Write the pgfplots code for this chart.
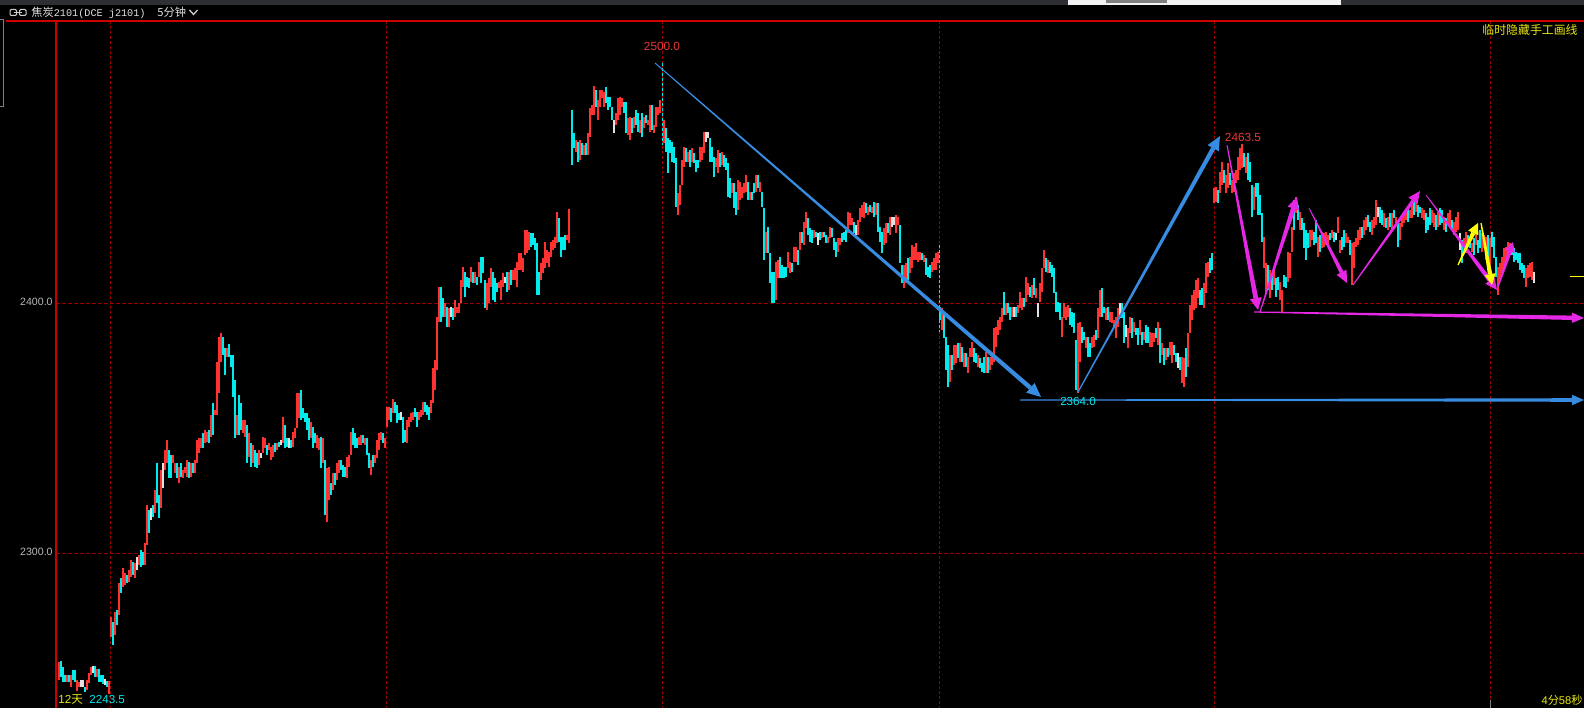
\documentclass[border=0pt]{standalone}
\usepackage{fontspec}
\setmainfont{Liberation Sans}
\newfontfamily\cjk{Noto Sans CJK SC}
\newfontfamily\mono{Liberation Mono}
\usepackage{pgfplots}
\pgfplotsset{compat=1.18}
\usepackage{pgfplotstable}
\usetikzlibrary{arrows.meta,calc}
\definecolor{barred}{RGB}{255,50,50}
\definecolor{barcyan}{RGB}{0,235,235}
\definecolor{barwhite}{RGB}{225,225,225}
\definecolor{gridred}{RGB}{150,0,0}
\definecolor{borderred}{RGB}{205,0,0}
\definecolor{lblred}{RGB}{235,55,55}
\definecolor{ylw}{RGB}{230,230,20}
\definecolor{gry}{RGB}{185,185,185}
\definecolor{blueln}{RGB}{55,140,225}
\definecolor{magln}{RGB}{230,40,230}
\definecolor{yelln}{RGB}{255,255,0}
\definecolor{topbar}{RGB}{45,47,51}

\pgfplotstableread{
x l h c
59 2249.2 2256.4 1
61 2250.4 2256.8 2
63 2248.4 2254.4 2
65 2248.4 2251.2 2
67 2248.4 2251.2 1
69 2248.4 2251.2 2
71 2246.4 2251.2 1
73 2249.2 2253.2 2
75 2248.4 2253.2 2
77 2244.8 2249.2 1
79 2246.4 2248.4 1
81 2246.4 2249.2 3
83 2246.4 2249.2 3
85 2244.4 2246.4 2
87 2245.2 2249.2 1
89 2248 2252 1
91 2251.2 2254.4 1
93 2252 2254.8 3
95 2250.4 2254.8 2
97 2250.4 2253.6 1
99 2248.4 2253.6 2
101 2248.4 2251.2 2
103 2247.6 2251.2 2
105 2247.2 2249.6 3
107 2246.4 2248.8 2
109 2243.5 2248.8 1
111 2266.5 2274.5 1
113 2263.2 2272.5 2
115 2267.2 2276.5 1
117 2271.2 2277.2 2
119 2275.2 2287.9 1
121 2283.9 2289.9 2
123 2286.5 2293.9 1
125 2287.2 2291.9 1
127 2287.9 2291.2 2
129 2288.5 2293.2 1
131 2290.5 2297.2 1
133 2291.2 2296.5 2
135 2290 2296 1
137 2293.2 2298.5 3
139 2295.2 2299.2 1
141 2294.5 2301.2 2
143 2295.2 2300.5 2
145 2295.2 2303.9 1
147 2303.2 2319.2 1
149 2307.9 2317.2 2
151 2313.2 2317.9 3
153 2314.5 2319.2 2
155 2315.9 2325.2 1
157 2319.9 2335.9 2
159 2313.9 2323.2 2
161 2317.9 2333.2 1
163 2325.9 2335.9 3
165 2333.2 2341.2 1
167 2335.9 2345.2 1
169 2329.9 2341.2 2
171 2329.9 2339.2 2
173 2335.9 2339.2 1
175 2331.9 2335.9 1
177 2329.9 2335.9 2
179 2327.9 2334.5 1
181 2330.5 2335.9 2
183 2329.9 2333.2 1
185 2331.9 2334.5 1
187 2330.5 2337.2 1
189 2329.9 2336.5 2
191 2330.5 2335.9 1
193 2331.9 2335.9 2
195 2331.9 2337.2 1
197 2335.9 2345.2 1
199 2339.9 2345.9 1
201 2341.9 2345.9 1
203 2341.9 2347.9 2
205 2343.9 2349.2 1
207 2344.5 2348.5 1
209 2343.9 2349.2 2
211 2346.5 2355.2 1
213 2347.2 2359.9 2
215 2355.2 2357.2 1
217 2355.2 2376.5 1
219 2363.9 2386.5 1
221 2376.5 2387.9 1
223 2379.2 2386.5 2
225 2371.2 2381.9 2
227 2378.5 2381.9 1
229 2378.5 2383.5 2
231 2374.5 2379.2 2
233 2362.5 2379.2 2
235 2345.9 2369.2 2
237 2347.2 2355.2 1
239 2347.2 2363.2 2
241 2349.2 2359.9 2
243 2347.9 2353.2 1
245 2346.5 2353.2 1
247 2335.9 2351.2 2
249 2338.5 2347.9 1
251 2334.5 2343.9 2
253 2335.9 2343.2 1
255 2334.5 2341.2 2
257 2333.9 2339.9 2
259 2335.2 2341.2 1
261 2337.9 2339.9 3
263 2339.9 2346.5 1
265 2341.9 2345.9 1
267 2339.2 2343.2 2
269 2341.2 2343.9 1
271 2337.2 2342.5 1
273 2338.5 2343.2 1
275 2340.5 2343.9 2
277 2341.2 2343.9 1
279 2342.5 2344.5 2
281 2343.2 2345.2 3
283 2343.9 2354.5 1
285 2341.9 2351.2 2
287 2342.5 2345.9 2
289 2341.9 2345.9 3
291 2341.9 2345.2 2
293 2342.5 2348.5 1
295 2345.9 2349.9 1
297 2349.9 2363.9 1
299 2353.9 2363.9 1
301 2353.2 2365.2 2
303 2353.9 2357.9 2
305 2352.5 2355.9 2
307 2349.2 2355.9 2
309 2345.2 2353.9 2
311 2345.9 2352.5 1
313 2341.9 2350.5 2
315 2343.9 2347.9 2
317 2341.9 2347.2 1
319 2341.2 2345.9 1
321 2333.9 2346.5 2
323 2335.9 2345.9 1
325 2315.2 2337.2 2
327 2312.5 2333.9 1
329 2321.2 2334.5 1
331 2323.2 2327.9 2
333 2325.2 2331.9 1
335 2327.2 2331.9 2
337 2329.2 2335.9 1
339 2331.9 2337.2 1
341 2333.2 2337.2 2
343 2330.5 2335.2 2
345 2330.5 2334.5 2
347 2329.9 2338.5 1
349 2334.5 2339.2 1
351 2339.2 2348.5 1
353 2343.2 2349.9 2
355 2341.9 2347.9 2
357 2341.9 2345.9 2
359 2343.2 2346.5 1
361 2343.2 2347.2 1
363 2343.9 2347.2 2
365 2343.2 2345.9 1
367 2339.2 2345.9 2
369 2333.9 2339.9 2
371 2331.2 2337.2 1
373 2334.5 2339.2 2
375 2335.9 2339.2 1
377 2337.9 2345.2 1
379 2341.2 2347.9 1
381 2345.2 2348.5 1
383 2343.9 2347.9 2
385 2341.9 2345.9 1
387 2350.5 2358.5 1
389 2353.2 2358.5 1
391 2352.5 2357.9 2
393 2355.9 2361.5 1
395 2355.9 2360.5 2
397 2351.9 2359.2 2
399 2353.2 2355.9 2
401 2353.2 2356.5 3
403 2343.9 2354.5 2
405 2344.5 2349.2 2
407 2343.9 2353.2 1
409 2350.5 2354.5 1
411 2352.5 2355.9 1
413 2353.2 2356.5 1
415 2354.5 2357.9 2
417 2350.5 2356.5 2
419 2353.2 2356.5 1
421 2354.5 2357.2 1
423 2355.2 2360.5 1
425 2356.5 2360.5 2
427 2355.2 2359.2 2
429 2353.2 2358.5 2
431 2355.9 2361.2 1
433 2359.9 2373.9 1
435 2365.2 2377.2 1
437 2373.2 2394.5 1
439 2392.5 2406.5 1
441 2392.5 2406.5 2
443 2394.5 2401.9 2
445 2394.5 2399.9 1
447 2390.5 2398.5 2
449 2390.5 2397.9 1
451 2394.5 2398.5 3
453 2393.2 2397.9 2
455 2394.5 2401.2 1
457 2395.9 2398.5 1
459 2395.9 2399.9 1
461 2399.9 2409.2 1
463 2406.5 2414.5 1
465 2402.5 2412.5 2
467 2406.5 2410.5 2
469 2405.9 2409.9 2
471 2408.5 2414.5 1
473 2407.9 2412.5 2
475 2407.9 2412.5 1
477 2407.2 2410.5 2
479 2410.5 2416.5 1
481 2407.9 2418.5 2
483 2411.9 2418.5 2
485 2397.9 2409.2 2
487 2397.2 2407.9 1
489 2399.9 2409.9 1
491 2406.5 2413.9 1
493 2401.2 2412.5 2
495 2400.5 2409.9 2
497 2404.5 2407.9 2
499 2405.9 2408.5 1
501 2401.2 2409.2 1
503 2406.5 2411.9 1
505 2407.9 2410.5 3
507 2404.5 2412.5 2
509 2405.2 2412.5 1
511 2407.2 2413.2 2
513 2409.2 2413.2 1
515 2409.2 2413.9 1
517 2406.5 2416.5 1
519 2413.2 2419.9 1
521 2413.2 2419.9 1
523 2412.5 2417.9 1
525 2419.2 2429.2 1
527 2419.9 2429.2 1
529 2421.2 2428.5 1
531 2422.5 2427.9 2
533 2423.2 2427.9 2
535 2421.2 2425.9 2
537 2403.2 2423.9 2
539 2403.2 2412.5 2
541 2409.2 2415.9 1
543 2411.9 2417.9 1
545 2413.9 2424.5 1
547 2415.9 2421.2 1
549 2414.5 2420.5 1
551 2418.5 2424.5 1
553 2421.2 2425.2 1
555 2421.9 2426.5 1
557 2423.9 2436.5 1
559 2424.5 2433.9 2
561 2418.5 2426.5 2
563 2421.2 2426.5 2
565 2421.2 2427.2 2
567 2425.2 2427.2 1
569 2423.9 2437.6 1
572 2455.2 2477.2 2
574 2461.9 2467.9 2
576 2460.5 2465.2 1
578 2456.5 2464.5 2
580 2457.2 2465.2 1
582 2459.2 2463.9 2
584 2459.2 2463.2 1
586 2459.2 2463.9 2
588 2459.2 2467.9 1
590 2466.5 2477.9 1
592 2475.2 2479.2 1
594 2475.2 2486.8 1
596 2478.5 2485.2 2
598 2473.2 2481.2 1
600 2478.5 2485.2 1
602 2481.9 2485.2 1
604 2478.5 2484.5 1
606 2479.9 2486.5 2
608 2477.2 2482.5 2
610 2478.5 2482.5 2
612 2473.2 2478.5 2
614 2467.9 2473.2 3
616 2471.2 2475.9 1
618 2473.2 2481.9 1
620 2475.2 2482.5 1
622 2478.5 2481.9 1
624 2475.9 2480.5 2
626 2467.9 2480.5 2
628 2467.2 2473.9 1
630 2465.2 2474.5 1
632 2467.9 2473.9 2
634 2469.9 2474.5 1
636 2471.2 2477.2 2
638 2468.5 2475.9 2
640 2467.9 2473.2 1
642 2466.5 2475.9 2
644 2469.9 2474.5 1
646 2471.9 2475.2 2
648 2471.2 2473.2 1
650 2468.5 2479.2 1
652 2469.2 2479.2 2
654 2467.9 2471.2 1
656 2470.5 2478.5 1
658 2475.2 2478.5 1
660 2475.9 2481.2 1
664 2463.9 2473.2 1
666 2460.5 2469.9 2
668 2451.9 2465.9 2
670 2459.9 2465.2 2
672 2456.5 2464.5 2
674 2455.9 2462.5 2
676 2438.5 2457.9 2
678 2435.2 2443.9 1
680 2439.2 2447.2 1
682 2447.2 2457.2 1
684 2454.5 2462.5 1
686 2456.5 2461.9 2
688 2456.5 2460.5 1
690 2454.5 2461.2 2
692 2456.5 2461.9 1
694 2455.9 2459.9 2
696 2452.5 2457.2 2
698 2453.9 2457.2 2
700 2456.5 2462.5 1
702 2457.2 2462.5 1
704 2459.9 2468.5 1
706 2464.5 2468.5 3
708 2465.9 2468.5 3
710 2456.5 2465.9 2
712 2456.5 2462.5 2
714 2450.5 2458.5 2
716 2454.5 2457.9 1
718 2451.9 2461.2 1
720 2454.5 2459.9 2
722 2455.2 2460.5 1
724 2454.5 2459.2 2
726 2453.2 2457.9 2
728 2442.5 2455.9 2
730 2441.9 2449.9 2
732 2443.9 2447.9 1
734 2437.9 2447.9 2
736 2435.2 2444.5 2
738 2437.2 2449.2 1
740 2441.2 2448.5 1
742 2441.9 2446.5 1
744 2443.9 2447.9 1
746 2444.5 2451.2 1
748 2441.2 2448.5 2
750 2441.2 2444.5 1
752 2441.2 2444.5 2
754 2443.9 2447.9 2
756 2444.5 2451.2 1
758 2445.9 2451.2 2
760 2444.5 2448.5 1
762 2438.5 2444.5 2
764 2417.2 2437.9 2
766 2419.9 2428.5 1
768 2419.9 2430.5 2
770 2407.9 2419.9 2
772 2399.9 2412.5 2
774 2399.9 2412.5 2
776 2401.2 2416.5 1
778 2409.9 2417.2 1
780 2409.9 2418.5 2
782 2409.9 2415.2 2
784 2409.9 2414.5 2
786 2410.5 2414.5 2
788 2413.9 2420.5 1
790 2411.9 2416.5 1
792 2412.5 2415.9 2
794 2416.5 2422.5 1
796 2416.5 2422.5 1
798 2415.2 2421.2 2
800 2421.2 2428.5 1
802 2423.9 2428.5 2
804 2423.2 2432.5 1
806 2429.9 2436.5 1
808 2427.2 2433.9 2
810 2424.5 2429.9 2
812 2423.9 2429.2 2
814 2425.9 2429.2 1
816 2426.5 2428.5 2
818 2423.2 2427.9 3
820 2425.2 2428.5 2
822 2425.9 2428.5 1
824 2426.5 2428.5 2
826 2423.9 2427.2 2
828 2423.9 2426.5 1
830 2425.9 2430.5 1
832 2426.5 2429.9 2
834 2421.2 2425.9 2
836 2418.5 2424.5 2
838 2420.5 2425.9 1
840 2423.2 2425.9 1
842 2424.5 2427.9 2
844 2425.2 2428.5 2
846 2424.5 2429.2 2
848 2427.9 2436.5 1
850 2431.2 2435.9 1
852 2431.2 2433.9 1
854 2427.9 2432.5 2
856 2427.2 2431.2 3
858 2427.2 2433.2 1
860 2432.5 2437.9 1
862 2434.5 2439.2 1
864 2433.9 2440.5 1
866 2435.9 2439.9 2
868 2435.2 2438.5 1
870 2436.5 2439.2 2
872 2435.9 2438.5 1
874 2434.5 2440.5 2
876 2435.2 2439.9 1
878 2428.5 2439.9 2
880 2424.5 2430.5 2
882 2419.9 2428.5 2
884 2423.2 2429.9 1
886 2423.9 2431.9 1
888 2427.9 2431.9 2
890 2427.2 2434.5 1
892 2430.5 2434.5 3
894 2431.2 2434.5 3
896 2427.9 2435.2 1
898 2431.2 2434.5 1
900 2415.9 2431.2 2
902 2407.9 2415.2 2
904 2405.9 2415.2 1
906 2407.9 2415.9 1
908 2408.5 2417.9 2
910 2411.9 2418.5 1
912 2413.9 2423.2 1
914 2417.2 2422.5 1
916 2417.2 2423.9 1
918 2416.5 2420.5 1
920 2417.2 2420.5 1
922 2417.2 2419.9 2
924 2416.5 2419.2 1
926 2411.2 2417.9 2
928 2410.5 2414.5 2
930 2409.9 2415.2 2
932 2412.5 2416.5 1
934 2413.2 2417.9 1
936 2413.2 2419.9 1
938 2415.9 2420.5 1
940 2393.2 2398.5 2
942 2389.2 2397.9 1
944 2385.9 2395.9 2
946 2373.2 2386.5 2
948 2366.5 2383.2 2
950 2368.5 2379.2 1
952 2373.2 2379.2 2
954 2375.2 2383.2 1
956 2375.9 2383.2 1
958 2377.9 2383.9 2
960 2376.5 2383.9 1
962 2376.5 2382.5 2
964 2374.5 2379.9 1
966 2374.5 2379.9 2
968 2371.9 2378.5 1
970 2378.5 2381.9 1
972 2378.5 2384.5 1
974 2376.5 2381.9 2
976 2375.9 2379.9 2
978 2374.5 2379.2 1
980 2373.9 2377.9 2
982 2372.5 2375.9 2
984 2371.9 2378.5 2
986 2371.9 2380.5 1
988 2371.9 2378.5 2
990 2373.2 2378.5 1
992 2375.2 2379.2 1
994 2376.5 2389.9 1
996 2382.5 2390.5 1
998 2387.2 2393.2 1
1000 2389.2 2394.5 1
1002 2392.5 2397.9 1
1004 2395.2 2404.5 2
1006 2395.2 2399.9 1
1008 2395.9 2399.9 2
1010 2393.2 2398.5 2
1012 2394.5 2398.5 1
1014 2394.5 2398.5 3
1016 2394.5 2398.5 2
1018 2395.9 2399.2 1
1020 2397.9 2404.5 1
1022 2397.2 2401.9 1
1024 2398.5 2401.9 2
1026 2400.5 2410.5 1
1028 2403.2 2407.9 1
1030 2402.5 2406.5 2
1032 2401.9 2407.2 1
1034 2403.2 2409.9 2
1036 2401.9 2405.9 1
1038 2394.5 2399.9 3
1040 2400.5 2407.9 1
1042 2404.5 2413.9 1
1044 2413.9 2421.2 1
1046 2412.5 2417.9 2
1048 2411.9 2417.2 1
1050 2411.9 2416.5 2
1052 2410.5 2415.2 2
1054 2403.9 2413.9 2
1056 2396.5 2404.5 2
1058 2396.5 2400.5 2
1060 2393.2 2399.9 2
1062 2386.5 2394.5 1
1064 2393.9 2399.9 1
1066 2393.2 2398.5 1
1068 2394.5 2399.2 1
1070 2391.2 2397.9 2
1072 2390.5 2396.5 2
1074 2387.9 2395.9 2
1076 2365.2 2385.2 2
1078 2364 2391.9 1
1080 2376.5 2392.5 1
1082 2383.9 2390.5 2
1084 2385.2 2388.5 2
1086 2381.9 2386.5 1
1088 2378.5 2386.5 2
1090 2378.5 2383.9 2
1092 2381.9 2386.5 1
1094 2382.5 2387.2 1
1096 2385.2 2389.2 2
1098 2385.9 2397.9 1
1100 2394.5 2405.2 1
1102 2394.5 2405.9 2
1104 2395.9 2398.5 2
1106 2393.2 2397.9 1
1108 2393.2 2398.5 2
1110 2392.5 2396.5 1
1112 2391.9 2396.5 1
1114 2389.9 2393.2 1
1116 2385.9 2394.5 1
1118 2390.5 2397.9 1
1120 2393.9 2399.9 3
1122 2393.9 2399.9 2
1124 2383.9 2396.5 2
1126 2386.5 2391.2 3
1128 2381.9 2389.9 1
1130 2387.9 2394.5 1
1132 2385.9 2393.9 2
1134 2388.5 2392.5 1
1136 2387.2 2389.9 2
1138 2383.2 2389.9 2
1140 2387.2 2393.2 1
1142 2383.2 2388.5 2
1144 2385.2 2388.5 1
1146 2383.9 2391.2 2
1148 2383.9 2390.5 2
1150 2382.5 2388.5 1
1152 2382.5 2387.9 1
1154 2384.5 2387.9 1
1156 2385.9 2389.9 2
1158 2383.2 2392.5 1
1160 2375.9 2389.9 2
1162 2379.2 2383.9 1
1164 2375.2 2381.9 2
1166 2377.2 2381.9 1
1168 2378.5 2381.9 2
1170 2379.2 2384.5 1
1172 2375.9 2384.5 1
1174 2379.2 2383.2 2
1176 2376.5 2379.9 2
1178 2373.9 2379.9 3
1180 2373.2 2378.5 2
1182 2367.9 2378.5 1
1184 2366.5 2377.9 1
1186 2370.5 2381.9 2
1188 2374.5 2387.9 1
1190 2387.9 2399.2 1
1192 2393.2 2403.2 1
1194 2397.2 2405.2 1
1196 2397.9 2409.2 1
1198 2401.9 2409.9 1
1200 2399.2 2405.2 2
1202 2399.2 2405.9 2
1204 2397.9 2407.9 1
1206 2403.9 2415.9 1
1208 2410.5 2416.5 1
1210 2411.9 2417.9 2
1212 2413.2 2419.9 2
1214 2439.9 2445.9 1
1216 2440.5 2446.5 1
1218 2439.9 2445.2 2
1220 2443.9 2452.5 1
1222 2447.2 2456.5 1
1224 2447.9 2453.2 2
1226 2443.9 2451.2 1
1228 2445.9 2455.9 1
1230 2447.2 2451.9 2
1232 2443.9 2449.2 1
1234 2444.5 2451.9 1
1236 2447.9 2453.2 1
1238 2449.2 2458.5 1
1240 2453.2 2461.9 1
1242 2453.9 2463.5 1
1244 2454.5 2459.9 2
1246 2451.9 2458.5 1
1248 2449.2 2459.9 2
1250 2448.5 2456.5 2
1252 2434.5 2447.2 2
1254 2437.2 2446.5 1
1256 2442.5 2447.9 2
1258 2435.2 2447.9 2
1260 2435.2 2443.2 2
1262 2424.5 2435.9 2
1264 2413.9 2426.5 1
1266 2403.9 2415.9 1
1268 2405.2 2415.2 2
1270 2401.9 2413.2 1
1272 2405.2 2411.2 2
1274 2407.2 2414.5 1
1276 2402.5 2409.9 2
1278 2405.2 2410.5 2
1280 2401.2 2408.5 1
1282 2395.9 2405.2 1
1284 2406.5 2411.2 2
1286 2405.9 2410.5 2
1288 2408.5 2420.5 1
1290 2409.9 2419.9 1
1292 2420.5 2430.5 1
1294 2429.2 2441.2 2
1296 2435.9 2442.5 1
1298 2433.2 2439.2 2
1300 2429.2 2436.5 1
1302 2429.2 2433.9 2
1304 2421.9 2431.9 2
1306 2417.2 2429.2 2
1308 2421.9 2427.9 2
1310 2422.5 2429.2 1
1312 2425.2 2429.2 1
1314 2423.2 2428.5 2
1316 2423.9 2433.2 2
1318 2418.5 2426.5 1
1320 2420.5 2427.2 2
1322 2421.9 2428.5 1
1324 2422.5 2427.9 1
1326 2423.2 2428.5 1
1328 2422.5 2427.2 1
1330 2425.2 2427.9 2
1332 2425.9 2429.2 1
1334 2424.5 2428.5 2
1336 2425.2 2427.9 3
1338 2427.9 2434.5 1
1340 2419.9 2425.2 1
1342 2421.2 2426.5 2
1344 2422.5 2429.2 2
1346 2423.9 2427.9 1
1348 2423.9 2426.5 1
1350 2419.2 2425.2 2
1352 2407.2 2423.9 1
1354 2413.9 2424.5 1
1356 2422.5 2425.9 1
1358 2423.2 2429.2 1
1360 2425.2 2430.5 1
1362 2425.9 2430.5 2
1364 2427.2 2433.2 1
1366 2429.2 2434.5 1
1368 2430.5 2435.2 2
1370 2428.5 2432.5 2
1372 2427.2 2433.2 1
1374 2429.9 2434.5 1
1376 2431.2 2441.2 1
1378 2434.5 2438.5 3
1380 2431.9 2438.5 2
1382 2431.2 2437.2 2
1384 2430.5 2435.9 1
1386 2429.9 2433.9 2
1388 2429.2 2434.5 1
1390 2430.5 2435.9 2
1392 2429.2 2435.9 1
1394 2433.9 2437.2 2
1396 2431.9 2434.5 1
1398 2422.5 2433.2 2
1400 2425.2 2431.9 1
1402 2430.5 2434.5 1
1404 2431.9 2435.9 1
1406 2433.2 2437.2 1
1408 2432.5 2438.5 2
1410 2433.9 2437.2 1
1412 2433.9 2439.2 1
1414 2435.2 2442.5 2
1416 2436.5 2441.2 1
1418 2434.5 2439.2 2
1420 2435.9 2438.5 2
1422 2433.9 2437.9 1
1424 2433.2 2437.2 1
1426 2427.9 2435.9 2
1428 2429.2 2434.5 2
1430 2431.2 2437.9 2
1432 2431.9 2437.2 1
1434 2430.5 2435.9 1
1436 2429.2 2435.2 2
1438 2430.5 2436.5 1
1440 2431.2 2437.9 2
1442 2431.9 2437.2 2
1444 2429.2 2434.5 1
1446 2428.5 2433.9 2
1448 2431.2 2435.9 1
1450 2430.5 2437.2 1
1452 2429.2 2433.2 2
1454 2427.2 2432.5 1
1456 2428.5 2434.5 1
1458 2429.2 2436.5 1
1460 2421.2 2427.9 3
1462 2415.9 2425.2 2
1464 2419.9 2425.9 1
1466 2419.9 2428.5 1
1468 2422.5 2427.2 2
1470 2421.9 2426.5 2
1472 2420.5 2423.9 1
1474 2419.2 2425.9 2
1476 2423.2 2429.2 1
1478 2419.9 2425.2 2
1480 2421.9 2429.2 2
1482 2420.5 2427.9 1
1484 2421.9 2427.2 1
1486 2417.2 2426.5 1
1488 2415.9 2427.2 2
1490 2409.2 2425.9 1
1492 2422.5 2428.5 2
1494 2417.9 2426.5 2
1496 2410.5 2418.5 2
1498 2403.2 2414.5 1
1500 2409.2 2415.9 1
1502 2411.9 2418.5 1
1504 2414.5 2421.9 1
1506 2416.5 2422.5 1
1508 2418.5 2424.5 1
1510 2419.9 2423.9 1
1512 2419.2 2423.2 2
1514 2416.5 2421.9 2
1516 2417.2 2420.5 2
1518 2415.9 2419.9 2
1520 2413.2 2419.9 2
1522 2411.9 2415.9 2
1524 2409.9 2415.2 2
1526 2406.5 2413.9 1
1528 2409.9 2415.2 1
1530 2410.5 2415.9 1
1532 2409.2 2416.5 1
1534 2407.9 2412.5 3
}\bars

% tapered hand-drawn arrow: colour, start, tip, half width at start, half width at head base, head length, head half width
\newcommand{\taper}[7]{%
  \coordinate (tA) at #2;
  \coordinate (tB) at #3;
  \coordinate (tC) at ($(tB)!#6!(tA)$);
  \fill[#1] ($(tA)!#4!90:(tC)$) -- ($(tC)!#5!-90:(tA)$) -- ($(tC)!#5!90:(tA)$) -- ($(tA)!#4!-90:(tC)$) -- cycle;
  \fill[#1] ($(tC)!#7!90:(tA)$) -- (tB) -- ($(tC)!#7!-90:(tA)$) -- cycle;
}

\pgfplotsset{
  hlbar/.style={draw=none, mark=none, forget plot,
    restrict expr to domain={\thisrow{c}}{#1:#1},
    error bars/.cd, y dir=minus, y explicit, error mark=none},
}

\begin{document}
\begin{tikzpicture}
\useasboundingbox (0,0) rectangle (792pt,354pt);
\clip (0,0) rectangle (792pt,354pt);
\fill[black] (0,0) rectangle (792pt,354pt);
% pixel scope: (px, py) with origin at top left, 1 px = 0.5 pt
\begin{scope}[yshift=354pt, x=0.5pt, y=-0.5pt]
  \fill[topbar] (0,0) rectangle (1584,5);
  \fill[white!95!black] (1068,0) rectangle (1341,5);
  \fill[gray] (1106,0) rectangle (1167,3);
  \draw[gray, line width=0.5pt] (0,20) -- (3,20) -- (3,107) -- (0,107);
  \foreach \gx in {110,386,662,939,1214,1490}
    \draw[gridred, line width=0.5pt, dash pattern=on 1.5pt off 1pt] (\gx,21) -- (\gx,708);
  \draw[gridred, line width=0.5pt, dash pattern=on 2pt off 1pt] (56,303) -- (1584,303);
  \draw[gridred, line width=0.5pt, dash pattern=on 2pt off 1pt] (56,553) -- (1584,553);
  \draw[borderred, line width=0.6pt] (6,21) -- (1584,21);
  \draw[borderred, line width=0.6pt] (56,21) -- (56,708);
  \draw[barcyan, line width=0.5pt, dash pattern=on 1.5pt off 1pt] (662,63) -- (662,145);
  \draw[barcyan, line width=0.5pt, dash pattern=on 1.5pt off 1pt] (939,245) -- (939,332);
\end{scope}

\begin{axis}[at={(0,0)}, anchor=south west, width=792pt, height=354pt, scale only axis,
  xmin=0, xmax=1584, ymin=2238, ymax=2521.2, hide axis, clip=true]
\addplot[hlbar=1, error bar style={draw=barred, solid, line width=0.65pt}]
  table[x=x, y=h, y error expr=\thisrow{h}-\thisrow{l}] {\bars};
\addplot[hlbar=2, error bar style={draw=barcyan, solid, line width=0.65pt}]
  table[x=x, y=h, y error expr=\thisrow{h}-\thisrow{l}] {\bars};
\addplot[hlbar=3, error bar style={draw=barwhite, solid, line width=0.65pt}]
  table[x=x, y=h, y error expr=\thisrow{h}-\thisrow{l}] {\bars};
\end{axis}

\begin{scope}[yshift=354pt, x=0.5pt, y=-0.5pt]
  % hand-drawn lines
  \taper{blueln}{(655,63)}{(1041,397)}{0.25pt}{1.1pt}{7pt}{3.2pt}
  \taper{blueln}{(1020,400)}{(1584,400)}{0.25pt}{0.9pt}{6pt}{2.6pt}
  \taper{blueln}{(1078,392)}{(1220,136)}{0.3pt}{1.1pt}{7pt}{3.2pt}
  \taper{magln}{(1254,312)}{(1584,318)}{0.3pt}{1.1pt}{6pt}{2.6pt}
  \taper{magln}{(1227,145)}{(1258,310)}{0.25pt}{1.2pt}{6pt}{3pt}
  \taper{magln}{(1260,312)}{(1297,197)}{0.25pt}{1.2pt}{6pt}{3pt}
  \taper{magln}{(1309,208)}{(1347,283)}{0.2pt}{1.0pt}{6pt}{2.8pt}
  \taper{magln}{(1353,285)}{(1420,191)}{0.25pt}{0.9pt}{6pt}{2.8pt}
  \taper{magln}{(1426,195)}{(1497,290)}{0.2pt}{1.1pt}{6pt}{2.8pt}
  \taper{magln}{(1498,287)}{(1513,242)}{0.3pt}{1.0pt}{5pt}{2.6pt}
  \taper{yelln}{(1458,265)}{(1478,223)}{0.3pt}{1.1pt}{5.5pt}{2.8pt}
  \taper{yelln}{(1481,223)}{(1492,285)}{0.3pt}{1.1pt}{5.5pt}{2.8pt}
  \draw[yelln, line width=0.5pt] (1570,277) -- (1584,277);
  \draw[gray, line width=0.5pt] (1490,700) -- (1490,708);
  % title bar
  \draw[white!80!black, line width=0.5pt, rounded corners=0.6pt] (10,9.5) rectangle (16.5,15.5);
  \draw[white!80!black, line width=0.5pt, rounded corners=0.6pt] (19.5,9.5) rectangle (26,15.5);
  \draw[white!80!black, line width=0.5pt] (14,12.5) -- (22,12.5);
  \node[anchor=west, inner sep=0, text=white!88!black] at (31,12.5)
    {\cjk\fontsize{5.6pt}{6pt}\selectfont 焦炭\mono\fontsize{5.1pt}{6pt}\selectfont 2101(DCE j2101)};
  \node[anchor=west, inner sep=0, text=white!88!black] at (157,12.5)
    {\cjk\fontsize{5.6pt}{6pt}\selectfont 5分钟};
  \draw[white!85!black, line width=0.6pt] (189.5,10) -- (193.5,14.5) -- (197.5,10);
  \node[anchor=east, inner sep=0, text=ylw] at (1578,30)
    {\cjk\fontsize{5.95pt}{6pt}\selectfont 临时隐藏手工画线};
  % price scale labels
  \node[anchor=east, inner sep=0, text=gry] at (53,302) {\fontsize{5.3pt}{6pt}\selectfont 2400.0};
  \node[anchor=east, inner sep=0, text=gry] at (53,552) {\fontsize{5.3pt}{6pt}\selectfont 2300.0};
  % annotations
  \node[inner sep=0, text=lblred] at (662,46) {\fontsize{5.9pt}{6pt}\selectfont 2500.0};
  \node[inner sep=0, text=lblred] at (1243,137) {\fontsize{5.9pt}{6pt}\selectfont 2463.5};
  \node[inner sep=0, text=barcyan] at (1078,402) {\fontsize{5.8pt}{6pt}\selectfont 2364.0};
  % bottom
  \node[anchor=west, inner sep=0, text=ylw] at (58,700) {\fontsize{5.8pt}{6pt}\selectfont 12\cjk 天};
  \node[anchor=west, inner sep=0, text=barcyan] at (89,700) {\fontsize{5.8pt}{6pt}\selectfont 2243.5};
  \node[anchor=east, inner sep=0, text=ylw] at (1583,700) {\fontsize{5.6pt}{6pt}\selectfont 4\cjk 分\rmfamily 58\cjk 秒};
\end{scope}
\end{tikzpicture}
\end{document}
